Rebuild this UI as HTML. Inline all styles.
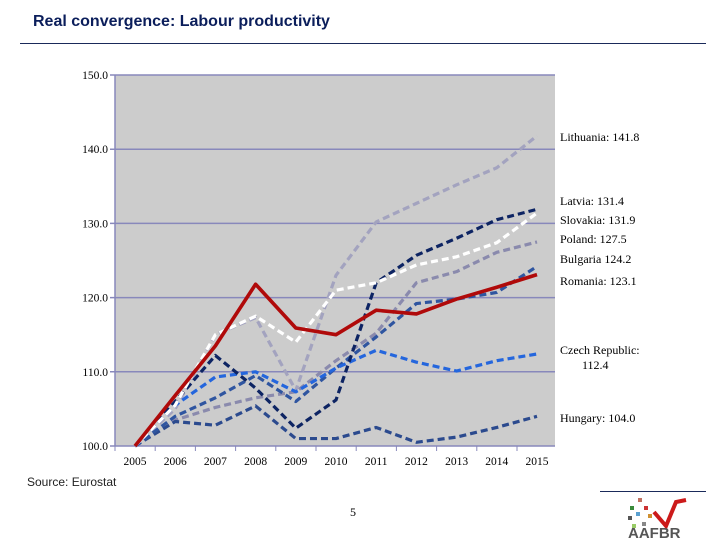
<!DOCTYPE html>
<html><head><meta charset="utf-8"><style>
body{margin:0;width:720px;height:540px;background:#fff;overflow:hidden;font-family:"Liberation Sans",sans-serif;position:relative}
.t{position:absolute}
</style></head><body>
<div class="t" style="left:33px;top:13px;font-size:16px;font-weight:bold;color:#0b1e5b">Real convergence: Labour productivity</div>
<div class="t" style="left:20px;top:43px;width:686px;height:1px;background:#1a2a5a"></div>
<div class="t" style="left:27px;top:475px;font-size:12px;color:#222">Source: Eurostat</div>
<div class="t" style="left:350px;top:505px;font-size:12px;font-family:'Liberation Serif',serif">5</div>
<div class="t" style="left:600px;top:491px;width:106px;height:1px;background:#1a2a5a"></div>
<svg class="t" style="left:624px;top:494px" width="80" height="46">
<rect x="6" y="12" width="4" height="4" fill="#3a8a3a"/><rect x="14" y="4" width="4" height="4" fill="#c07060"/><rect x="20" y="12" width="4" height="4" fill="#cc3333"/><rect x="12" y="18" width="4" height="4" fill="#5aa0d0"/><rect x="24" y="20" width="4" height="4" fill="#d09030"/><rect x="4" y="22" width="4" height="4" fill="#555"/><rect x="18" y="28" width="4" height="4" fill="#888"/><rect x="8" y="30" width="4" height="4" fill="#9c6"/>
<polyline points="30,18 42,32 52,8 62,6" fill="none" stroke="#cc1a1a" stroke-width="4"/>
<text x="4" y="44" font-size="15" font-weight="bold" fill="#555" font-family="Liberation Sans,sans-serif">AAFBR</text>
</svg>
<svg id="chart" class="t" style="left:0;top:0" width="720" height="540"></svg>
<script>
const years=[2005,2006,2007,2008,2009,2010,2011,2012,2013,2014,2015];
const yTicks=[100,110,120,130,140,150];
const lithuania=[100,105,115,117.3,107.5,123,130.2,132.7,135.2,137.5,141.8];
const latvia=[100,105.5,115,117.5,114,121,122,124.4,125.5,127.4,131.4];
const slovakia=[100,106,112.2,107.8,102.4,106.2,122,125.7,128,130.5,131.9];
const poland=[100,103.5,105.2,106.5,107.3,111.5,115.2,122,123.5,126.1,127.5];
const bulgaria=[100,104,106.5,109.5,106,110.5,114.7,119.2,119.8,120.7,124.2];
const czech=[100,105.5,109.3,110,107.3,110.5,112.9,111.3,110.1,111.5,112.4];
const hungary=[100,103.3,102.8,105.4,101,101,102.5,100.5,101.2,102.5,104];
const romania=[100,106.8,113.5,121.8,115.9,115,118.3,117.8,119.8,121.4,123.1];
const labels=[["Lithuania: 141.8",141],["Latvia: 131.4",205],["Slovakia: 131.9",224],["Poland: 127.5",243],["Bulgaria 124.2",263],["Romania: 123.1",285],["Czech Republic:",354],["112.4",369],["Hungary: 104.0",422]];
const ns="http://www.w3.org/2000/svg",svg=document.getElementById('chart');
const X0=115,X1=555,Y0=446,Y1=75;
const x=i=>135+i*40.2, y=v=>Y0-(v-100)*(Y0-Y1)/50;
function mk(t,a){const e=document.createElementNS(ns,t);for(const k in a)e.setAttribute(k,a[k]);svg.appendChild(e);return e;}
const bg=mk('rect',{x:X0,y:Y1,width:X1-X0,height:Y0-Y1,fill:'#cccccc'});


yTicks.forEach(v=>{
 const g=mk('line',{x1:X0-5,x2:X1,y1:y(v),y2:y(v),stroke:'#8888bb','stroke-width':1.5});
 
 
 const t=mk('text',{x:108,y:y(v)+4,'text-anchor':'end','font-size':11.5,'font-family':'Liberation Serif,serif'});t.textContent=v.toFixed(1);
 
 
});
const ax=mk('line',{x1:X0,x2:X0,y1:Y1,y2:Y0,stroke:'#8888bb','stroke-width':1.5});


years.forEach((yr,i)=>{
 const t=mk('text',{x:x(i),y:465,'text-anchor':'middle','font-size':11.5,'font-family':'Liberation Serif,serif'});t.textContent=yr;
 
 
 const tk=mk('line',{x1:x(i)-20,x2:x(i)-20,y1:Y0,y2:Y0+5,stroke:'#8888bb'});
 
 
});
const series=[[lithuania,'#a3a3bf','lithuania-line',1],[poland,'#8a8aad','poland-line',1],[hungary,'#2b4a8e','hungary-line',1],[bulgaria,'#2f55a0','bulgaria-line',1],[czech,'#2466dd','czech-line',1],[slovakia,'#0d2463','slovakia-line',1],[latvia,'#ffffff','latvia-line',1],[romania,'#b00a0a','romania-line',0]];
series.forEach(([d,c,n,dash])=>{
 const p=mk('polyline',{points:d.map((v,i)=>x(i)+','+y(v)).join(' '),fill:'none',stroke:c,'stroke-width':dash?3.2:3.6,'stroke-dasharray':dash?'7 4':'none','stroke-linejoin':'round'});
 
 
});
labels.forEach(([s,yy])=>{
 const t=mk('text',{x:s==='112.4'?582:560,y:yy,'font-size':12,'font-family':'Liberation Serif,serif'});t.textContent=s;
 
 
});
</script>
</body></html>
